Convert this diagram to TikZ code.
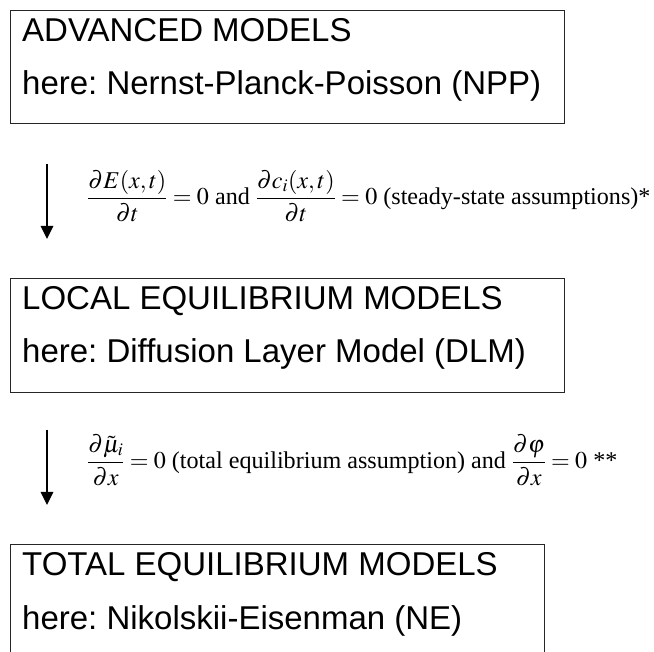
\documentclass[tikz,border=0pt]{standalone}
\usepackage{amsmath}
\usepackage{mathptmx}
\usepackage[no-math]{fontspec}
\setmainfont{Liberation Serif}
\newfontfamily\arialfont{Liberation Sans}
\usetikzlibrary{arrows.meta}
\frenchspacing
\tikzset{
  boxframe/.style={draw=black!85, line width=1.3pt, inner sep=0pt},
  boxtext/.style={font=\arialfont\fontsize{33}{39}\selectfont, anchor=base west, inner sep=0pt},
  eqtext/.style={font=\fontsize{24.1}{29}\selectfont, anchor=west, inner sep=0pt},
  downarrow/.style={line width=1.4pt, -{Triangle[width=12.5pt,length=13pt]}}
}
\begin{document}
\begin{tikzpicture}[x=1pt,y=-1pt]
\useasboundingbox (0,0) rectangle (654,652);
\clip (0,0) rectangle (654,652);
% boxes
\node[boxframe, anchor=north west, minimum width=554pt, minimum height=113pt] (box1) at (10,10) {};
\node[boxframe, anchor=north west, minimum width=554pt, minimum height=114pt] (box2) at (10,278) {};
\node[boxframe, anchor=north west, minimum width=534pt, minimum height=130pt] (box3) at (10,544) {};
% box texts
\node[boxtext] (t1a) at (22,42) {ADVANCED MODELS};
\node[boxtext] (t1b) at (22,95) {here: Nernst-Planck-Poisson (NPP)};
\node[boxtext] (t2a) at (22,310) {LOCAL EQUILIBRIUM MODELS};
\node[boxtext] (t2b) at (22,363) {here: Diffusion Layer Model (DLM)};
\node[boxtext] (t3a) at (22,576) {TOTAL EQUILIBRIUM MODELS};
\node[boxtext] (t3b) at (22,629) {here: Nikolskii-Eisenman (NE)};
% equations
\node[eqtext] (eq1) at (87,196) {$\displaystyle \frac{\partial E(x,t)}{\partial t} = 0 \text{ and } \frac{\partial c_i(x,t)}{\partial t} = 0 \text{ (steady-state assumptions)*}$};
\node[eqtext] (eq2) at (87,460) {$\displaystyle \frac{\partial\tilde{\mu}_i}{\partial x} = 0 \text{ (total equilibrium assumption) and } \frac{\partial\varphi}{\partial x} = 0\text{ **}$};
% arrows
\coordinate (a1s) at (47,164);
\coordinate (a1e) at (47,239);
\coordinate (a2s) at (47,430);
\coordinate (a2e) at (47,505);
\draw[downarrow] (a1s) -- (a1e);
\draw[downarrow] (a2s) -- (a2e);
\end{tikzpicture}
\end{document}
